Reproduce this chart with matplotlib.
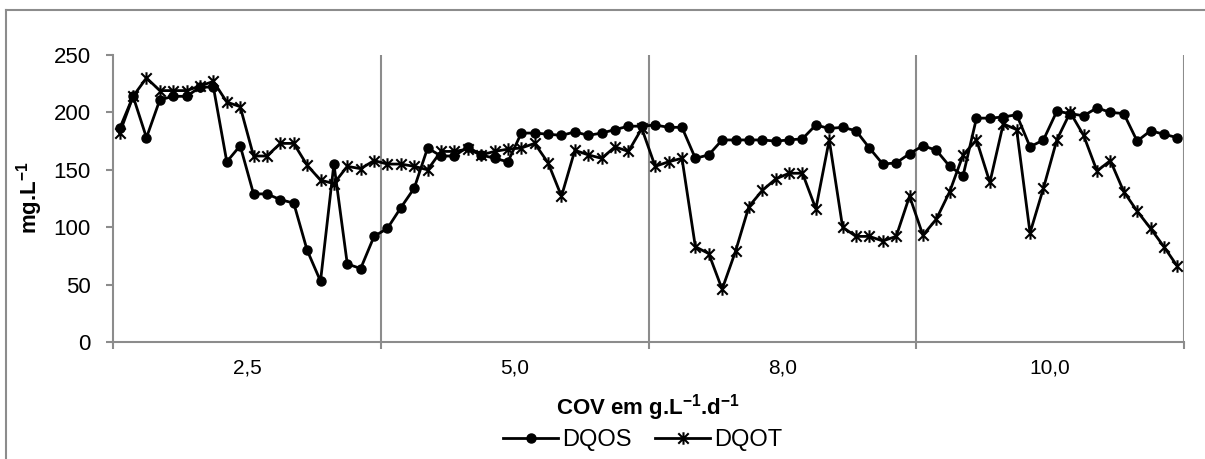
import matplotlib
matplotlib.use("Agg")
import matplotlib.pyplot as plt
import numpy as np
from matplotlib.path import Path
from matplotlib.lines import Line2D

plt.rcParams['font.family'] = ['Liberation Sans', 'DejaVu Sans']
plt.rcParams['mathtext.fontset'] = 'custom'
plt.rcParams['mathtext.rm'] = 'Liberation Sans'
plt.rcParams['mathtext.bf'] = 'Liberation Sans:bold'

# COV levels (one label per group of 20 samples)
cov_labels = ['2,5', '5,0', '8,0', '10,0']
per_group = 20

# DQO soluble (mg/L)
dqos = [186, 214, 178, 211, 214, 214, 222, 222, 157, 171,
        129, 129, 124, 121, 80, 53, 155, 68, 64, 92,
        99, 117, 134, 169, 162, 162, 170, 163, 160, 157,
        182, 182, 181, 180, 183, 180, 182, 185, 188, 188,
        189, 187, 187, 160, 163, 176, 176, 176, 176, 175,
        176, 177, 189, 186, 187, 184, 169, 155, 156, 164,
        171, 167, 153, 145, 195, 195, 196, 198, 170, 176,
        201, 199, 197, 204, 200, 199, 175, 184, 181, 178]

# DQO total (mg/L)
dqot = [182, 214, 230, 219, 219, 219, 223, 227, 209, 205,
        162, 162, 173, 173, 154, 141, 138, 153, 151, 158,
        155, 155, 153, 150, 166, 166, 168, 163, 166, 168,
        169, 173, 156, 127, 167, 163, 160, 170, 166, 186,
        153, 157, 160, 83, 77, 46, 79, 118, 132, 142,
        147, 147, 116, 176, 100, 92, 92, 88, 92, 127,
        93, 107, 131, 163, 176, 139, 190, 185, 95, 134,
        176, 200, 180, 149, 158, 131, 114, 99, 83, 66]

# star marker: an X with a vertical bar through it
star = Path([(-1, -1), (1, 1), (-1, 1), (1, -1), (0, -1.2), (0, 1.2)],
            [Path.MOVETO, Path.LINETO, Path.MOVETO, Path.LINETO, Path.MOVETO, Path.LINETO])

gray = '#8c8c8c'
W, H = 1205, 459
fig = plt.figure(figsize=(W / 100, H / 100), dpi=100)
ax = fig.add_axes([113 / W, 1 - 342 / H, (1184 - 113) / W, (342 - 55) / H])

x = np.arange(len(dqos))
ax.plot(x, dqos, color='black', lw=2, marker='o', ms=6.5, label='DQOS')
ax.plot(x, dqot, color='black', lw=2, marker=star, ms=9, mew=1.5, label='DQOT')

n = len(dqos)
ax.set_xlim(-0.5, n - 0.5)
ax.set_ylim(0, 250)
ax.set_yticks(np.arange(0, 251, 50))

bounds = np.arange(-0.5, n, per_group)
ax.set_xticks(bounds)
ax.set_xticklabels([])
for b in bounds[1:]:
    ax.axvline(b, color=gray, lw=1.5, zorder=0)
centers = np.arange(per_group / 2 - 0.5, n, per_group)
ax.set_xticks(centers, minor=True)
ax.set_xticklabels(cov_labels, minor=True, fontsize=15)
ax.tick_params(axis='x', which='minor', length=0, pad=12)
ax.tick_params(axis='x', which='major', length=5, width=1.5, color=gray)
ax.tick_params(axis='y', length=5, width=1.5, color=gray, labelsize=16, pad=11)

for side in ['top', 'right']:
    ax.spines[side].set_visible(False)
for side in ['left', 'bottom']:
    ax.spines[side].set_color(gray)
    ax.spines[side].set_linewidth(1.5)

fig.text(648 / W, 1 - 408 / H, r'COV em g.L$^{\mathbf{-1}}$.d$^{\mathbf{-1}}$',
         ha='center', va='center', fontsize=16, fontweight='bold')
fig.text(30 / W, 1 - 198 / H, r'mg.L$^{\mathbf{-1}}$', rotation=90,
         ha='center', va='center', fontsize=16, fontweight='bold')

fig.legend(loc='center', bbox_to_anchor=(643 / W, 1 - 440 / H), ncol=2, frameon=False,
           fontsize=17, handlelength=2.3, handletextpad=0.2, columnspacing=1.0)

# chart frame
fig.add_artist(Line2D([6 / W, 6 / W], [0, 1 - 10 / H], color=gray, lw=1.5))
fig.add_artist(Line2D([6 / W, 1], [1 - 10 / H, 1 - 10 / H], color=gray, lw=1.5))

fig.savefig('out.png', dpi=100)
